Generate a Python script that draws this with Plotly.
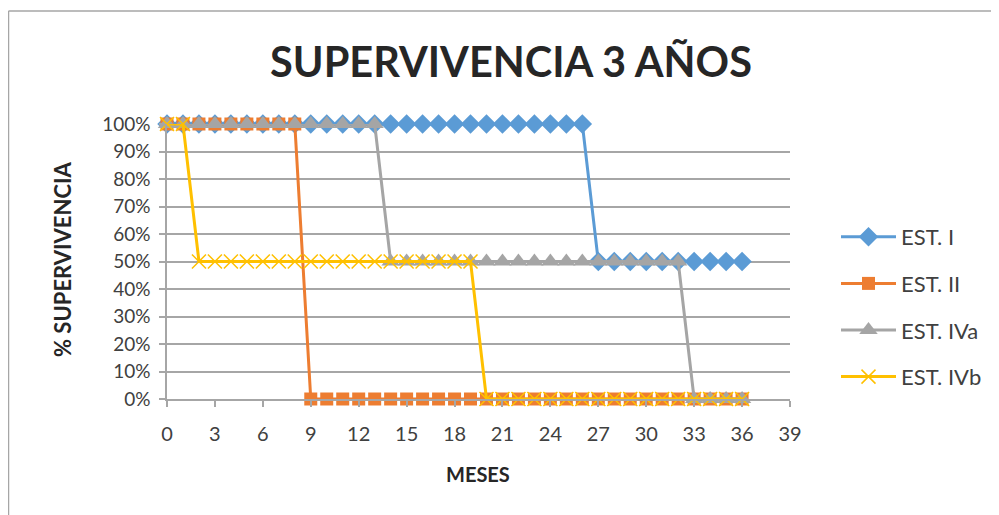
import plotly.graph_objects as go

meses = [0, 1, 2, 3, 4, 5, 6, 7, 8, 9, 10, 11, 12, 13, 14, 15, 16, 17, 18,
         19, 20, 21, 22, 23, 24, 25, 26, 27, 28, 29, 30, 31, 32, 33, 34, 35, 36]

est_i = [1, 1, 1, 1, 1, 1, 1, 1, 1, 1, 1, 1, 1, 1, 1, 1, 1, 1, 1,
         1, 1, 1, 1, 1, 1, 1, 1, 0.5, 0.5, 0.5, 0.5, 0.5, 0.5, 0.5, 0.5, 0.5, 0.5]
est_ii = [1, 1, 1, 1, 1, 1, 1, 1, 1, 0, 0, 0, 0, 0, 0, 0, 0, 0, 0,
          0, 0, 0, 0, 0, 0, 0, 0, 0, 0, 0, 0, 0, 0, 0, 0, 0, 0]
est_iva = [1, 1, 1, 1, 1, 1, 1, 1, 1, 1, 1, 1, 1, 1, 0.5, 0.5, 0.5, 0.5, 0.5,
           0.5, 0.5, 0.5, 0.5, 0.5, 0.5, 0.5, 0.5, 0.5, 0.5, 0.5, 0.5, 0.5, 0.5, 0, 0, 0, 0]
est_ivb = [1, 1, 0.5, 0.5, 0.5, 0.5, 0.5, 0.5, 0.5, 0.5, 0.5, 0.5, 0.5, 0.5, 0.5, 0.5, 0.5, 0.5, 0.5,
           0.5, 0, 0, 0, 0, 0, 0, 0, 0, 0, 0, 0, 0, 0, 0, 0, 0, 0]

nombres = ["EST. I", "EST. II", "EST. IVa", "EST. IVb"]
colores = ["#5B9BD5", "#ED7D31", "#A5A5A5", "#FFC000"]
simbolos = ["diamond", "square", "triangle-up", "x-thin"]
series = [est_i, est_ii, est_iva, est_ivb]

FONT = "Lato"
OFF = 8  # page body margin
W, H = 999 - OFF, 515 - OFF
# plot area in screen pixels: x 167..790, y 124..399
L = 167 - OFF
T = 124 - OFF
R = W - (790 - OFF)
B = H - (399 - OFF)
pw, ph = W - L - R, H - T - B


def px_x(p):
    return (p - OFF - L) / pw


def px_y(p):
    return (H - B - (p - OFF)) / ph


fig = go.Figure()
for n, c, s, v in zip(nombres, colores, simbolos, series):
    if s == "x-thin":
        marker = dict(symbol=s, size=14, color=c, line=dict(color=c, width=1.5))
    elif s == "square":
        marker = dict(symbol=s, size=13, color=c, line=dict(width=0))
    elif s == "diamond":
        marker = dict(symbol=s, size=15, color=c, line=dict(width=0))
    else:
        marker = dict(symbol=s, size=16, color=c, line=dict(width=0))
    fig.add_trace(go.Scatter(
        x=meses, y=v, name=n, mode="lines+markers",
        line=dict(color=c, width=3), marker=marker,
        cliponaxis=False, legendgroup=n,
    ))

fig.update_layout(
    width=W, height=H,
    margin=dict(l=L, r=R, t=T, b=B),
    paper_bgcolor="white", plot_bgcolor="white",
    font=dict(family=FONT, color="#404040", size=20),
    title=dict(text="<b>SUPERVIVENCIA 3 AÑOS</b>", x=px_x(511), xref="paper", xanchor="center",
               y=1 - (62 - OFF) / H, yanchor="middle",
               font=dict(family=FONT, size=41.5, color="#262626")),
    xaxis=dict(range=[0, 39], dtick=3, tick0=0, showgrid=False, zeroline=False,
               showline=True, linecolor="#A6A6A6", linewidth=1.5,
               ticks="outside", ticklen=6, tickcolor="#A6A6A6", tickwidth=1.5,
               ticklabelstandoff=10,
               tickfont=dict(family=FONT, size=20, color="#404040")),
    yaxis=dict(range=[0, 1], dtick=0.1, tick0=0, tickformat=".0%",
               showgrid=True, gridcolor="#A6A6A6", gridwidth=1.5, zeroline=False,
               showline=True, linecolor="#A6A6A6", linewidth=1.5,
               ticks="outside", ticklen=6, tickcolor="#A6A6A6", tickwidth=1.5,
               ticklabelstandoff=5,
               tickfont=dict(family=FONT, size=19, color="#404040")),
    legend=dict(x=px_x(836), xanchor="left", y=px_y(307), yanchor="middle",
                font=dict(family=FONT, size=22, color="#404040"),
                itemwidth=55, tracegroupgap=15, bgcolor="rgba(0,0,0,0)"),
    showlegend=True,
)

fig.add_annotation(text="<b>MESES</b>", x=px_x(478), y=px_y(474), xref="paper", yref="paper",
                   xanchor="center", yanchor="middle",
                   showarrow=False, font=dict(family=FONT, size=20, color="#262626"))
fig.add_annotation(text="<b>% SUPERVIVENCIA</b>", x=px_x(62), y=px_y(260), xref="paper", yref="paper",
                   xanchor="center", yanchor="middle",
                   showarrow=False, textangle=-90, font=dict(family=FONT, size=22, color="#262626"))

# chart frame (left and top edges visible)
fig.add_shape(type="line", xref="paper", yref="paper", x0=px_x(8.5), x1=px_x(8.5),
              y0=px_y(11), y1=px_y(540), line=dict(color="#A6A6A6", width=1.5))
fig.add_shape(type="line", xref="paper", yref="paper", x0=px_x(8.5), x1=px_x(1020),
              y0=px_y(11), y1=px_y(11), line=dict(color="#A6A6A6", width=1.5))

fig.write_html("out.html")
